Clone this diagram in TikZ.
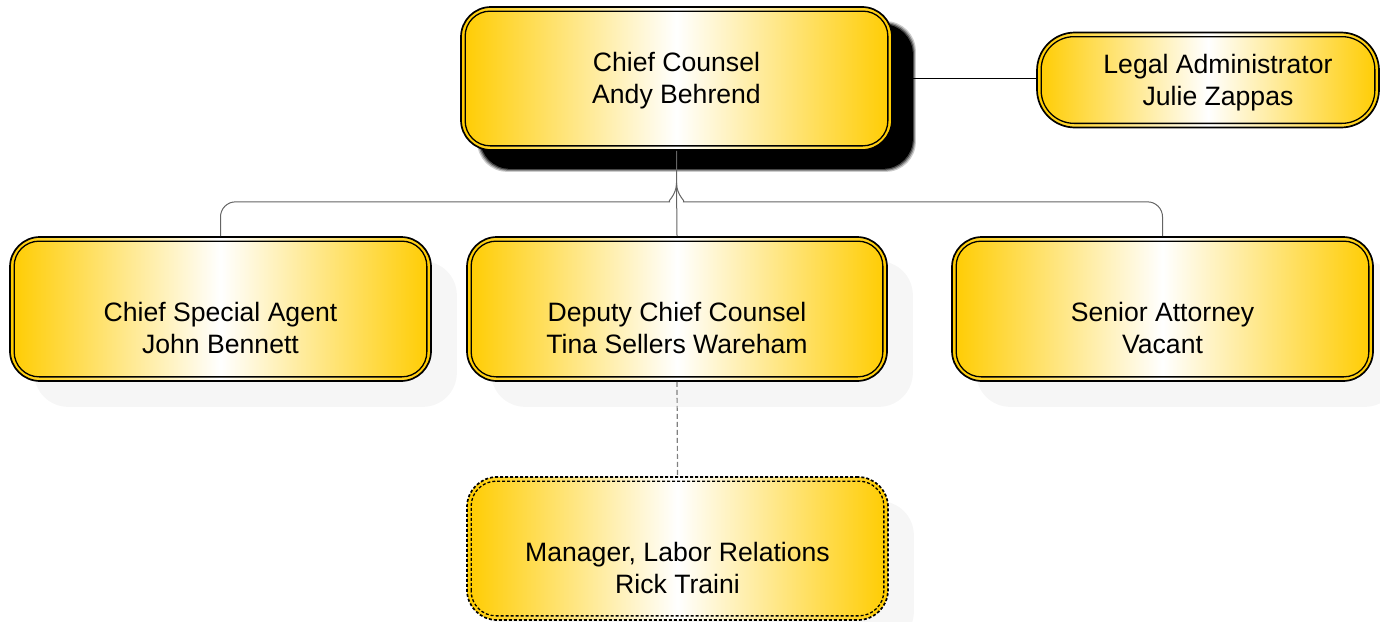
\documentclass[tikz,border=0pt]{standalone}
\usepackage{fontspec}
\setmainfont{Liberation Sans}
\usetikzlibrary{calc,backgrounds}

\definecolor{gold}{RGB}{255,204,0}
\definecolor{linkgray}{RGB}{100,100,100}
\definecolor{softshadow}{RGB}{246,246,246}

\tikzset{
  orgbox/.style={rectangle, rounded corners=30pt, draw=black, line width=1.7pt,
    left color=gold, right color=gold, middle color=white, inner sep=0pt},
  dashbox/.style={orgbox, dash pattern=on 3pt off 2pt},
  boxtext/.style={align=center, inner sep=0pt, font=\fontsize{26.6}{32}\selectfont},
  innerline/.style={draw=black, line width=1.3pt},
  conn/.style={draw=linkgray, line width=1pt},
  dotconn/.style={draw=gray, line width=1.2pt, dash pattern=on 5pt off 3pt},
}

% inner outline of a double-framed box: node name, corner radius, extra options
\newcommand\innerframe[3][]{%
  \draw[innerline, rounded corners=#3, #1]
    ($(#2.south west)+(5,-5)$) rectangle ($(#2.north east)+(-5,5)$);}

\begin{document}
\begin{tikzpicture}[x=1pt,y=-1pt]
  \useasboundingbox (0,0) rectangle (1380,621);

  % boxes
  \node[orgbox, minimum width=431pt, minimum height=143pt] (cc) at (676.5,78.5) {};
  \node[orgbox, rounded corners=38pt, minimum width=342pt, minimum height=95pt] (la) at (1208,80) {};
  \node[orgbox, minimum width=421pt, minimum height=144pt] (csa) at (220.5,309) {};
  \node[orgbox, minimum width=420pt, minimum height=144pt] (dcc) at (677,309) {};
  \node[orgbox, minimum width=421pt, minimum height=144pt] (sa) at (1162.5,309) {};
  \node[dashbox, minimum width=421pt, minimum height=143pt] (mgr) at (677.5,548.5) {};

  \innerframe{cc}{25pt}
  \innerframe{la}{33pt}
  \innerframe{csa}{25pt}
  \innerframe{dcc}{25pt}
  \innerframe{sa}{25pt}
  \innerframe[dash pattern=on 3pt off 2pt]{mgr}{25pt}

  % box texts
  \node[boxtext] (cc-t)  at ($(cc)+(0,2)$)   {Chief Counsel\\Andy Behrend};
  \node[boxtext] (la-t)  at ($(la)+(10,3)$)  {Legal Administrator\\Julie Zappas};
  \node[boxtext] (csa-t) at ($(csa)+(0,19)$) {Chief Special Agent\\John Bennett};
  \node[boxtext] (dcc-t) at ($(dcc)+(0,19)$) {Deputy Chief Counsel\\Tina Sellers Wareham};
  \node[boxtext] (sa-t)  at ($(sa)+(0,19)$)  {Senior Attorney\\Vacant};
  \node[boxtext] (mgr-t) at ($(mgr)+(0,19)$) {Manager, Labor Relations\\Rick Traini};

  % shadows
  \begin{scope}[on background layer]
    \foreach \e/\o in {3/0.2,2/0.3,1/0.5,0/1} {
      \fill[black, opacity=\o, rounded corners=30pt]
        ($(cc.south west)+(20-\e,18+\e)$) rectangle ($(cc.north east)+(20+\e,18-\e)$);
    }
    \foreach \b in {csa,dcc,sa,mgr} {
      \fill[softshadow, rounded corners=34pt]
        ($(\b.south west)+(25,25)$) rectangle ($(\b.north east)+(25,25)$);
    }
  \end{scope}

  % connectors
  \draw[conn, draw=black] (cc.east) -- (cc.east -| la.west);
  \draw[conn] (cc.south) -- ++(0,32) coordinate (jn) -- (dcc.north);
  \draw[conn, rounded corners=15pt] (jn) .. controls ($(jn)+(0,13)$) and ($(jn)+(-10,19)$) .. ($(jn)+(-22,19)$)
    -- (csa.north |- {$(jn)+(0,19)$}) -- (csa.north);
  \draw[conn, rounded corners=15pt] (jn) .. controls ($(jn)+(0,13)$) and ($(jn)+(10,19)$) .. ($(jn)+(22,19)$)
    -- (sa.north |- {$(jn)+(0,19)$}) -- (sa.north);
  \draw[dotconn] (dcc.south) -- (mgr.north);
\end{tikzpicture}
\end{document}
